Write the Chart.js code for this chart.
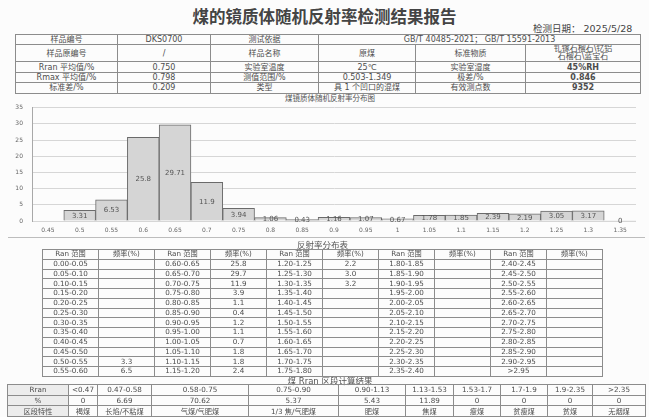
<!DOCTYPE html>
<html>
<head>
<meta charset="utf-8">
<script src="https://cdn.jsdelivr.net/npm/chart.js@4.4.1/dist/chart.umd.min.js"></script>
<style>
  html, body { margin: 0; padding: 0; background: #fcfcfc; }
  body { width: 649px; height: 417px; position: relative; overflow: hidden;
         font-family: "DejaVu Sans", "Noto Sans CJK SC", sans-serif; color: #4d4d4d; }
  .txt { position: absolute; white-space: nowrap; }
  table { position: absolute; border-collapse: collapse; table-layout: fixed; }
  td { border: 1px solid #8c8c8c; text-align: center; padding: 0; white-space: nowrap; overflow: hidden; vertical-align: middle; }
  #info td { font-size: 8px; line-height: 9px; }
  #info tr { height: 10.4px; }
  #info td.two { line-height: 8px; }
  #info tr.tall { height: 17px; }
  #dist td { font-size: 7.2px; line-height: 8px; }
  #dist tr { height: 9.75px; }
  #bands td { font-size: 7.2px; line-height: 9px; }
  #bands tr { height: 10.7px; }
  #bands td.head { background: #ececec; }
  .b { font-weight: bold; }
  #chartBox { position: absolute; left: 0; top: 95px; width: 649px; height: 145px; }
  #rule { position: absolute; left: 8px; top: 237px; width: 637px; height: 0; border-top: 1px solid #bdbdbd; }
</style>
</head>
<body>

<div class="txt" style="left:0;width:649px;top:4px;text-align:center;font-size:16.5px;font-weight:bold;color:#444;font-family:'Noto Sans CJK SC';">煤的镜质体随机反射率检测结果报告</div>
<div class="txt" style="left:533px;top:21px;font-size:9.5px;color:#444;">检测日期： 2025/5/28</div>

<table id="info" style="left:15px;top:34px;width:625px;">
  <colgroup><col style="width:102px"><col style="width:93px"><col style="width:108px"><col style="width:97px"><col style="width:110px"><col style="width:115px"></colgroup>
  <tr><td>样品编号</td><td>DKS0700</td><td>测试依据</td><td colspan="3">GB/T 40485-2021； GB/T 15591-2013</td></tr>
  <tr class="tall"><td>样品原编号</td><td>/</td><td>样品名称</td><td>原煤</td><td>标准物质</td><td class="two">钆镓石榴石\钇铝<br>石榴石\蓝宝石</td></tr>
  <tr><td>Rran 平均值/%</td><td>0.750</td><td>实验室温度</td><td>25℃</td><td>实验室湿度</td><td class="b">45%RH</td></tr>
  <tr><td>Rmax 平均值/%</td><td>0.798</td><td>测值范围/%</td><td>0.503-1.349</td><td>极差/%</td><td class="b">0.846</td></tr>
  <tr><td>标准差/%</td><td>0.209</td><td>类型</td><td>具 1 个凹口的混煤</td><td>有效测点数</td><td class="b">9352</td></tr>
</table>

<div class="txt" style="left:0;width:660px;top:92px;text-align:center;font-size:7.5px;color:#555;">煤镜质体随机反射率分布图</div>

<div id="chartBox"><canvas id="hist" width="649" height="145"></canvas></div>
<div id="rule"></div>

<div class="txt" style="left:0;width:645px;top:238px;text-align:center;font-size:8.5px;color:#555;">反射率分布表</div>
<table id="dist" style="left:42px;top:249px;width:560px;"></table>

<div class="txt" style="left:0;width:660px;top:374px;text-align:center;font-size:8.5px;color:#555;">煤 Rran 区段计算结果</div>
<table id="bands" style="left:7px;top:384px;width:638px;"></table>

<script>
// Histogram: random reflectance distribution (bin lower bound, % of points)
const binLabels = ['0.45','0.5','0.55','0.6','0.65','0.7','0.75','0.8','0.85','0.9','0.95','1','1.05','1.1','1.15','1.2','1.25','1.3','1.35'];
const binFreq   = [null, 3.31, 6.53, 25.8, 29.71, 11.9, 3.94, 1.06, 0.43, 1.16, 1.07, 0.67, 1.78, 1.85, 2.39, 2.19, 3.05, 3.17, 0];
const yMax = 35;
const yStep = 5;

// Distribution table: five pairs of (range, frequency) columns
const ranCol1  = ['0.00-0.05','0.05-0.10','0.10-0.15','0.15-0.20','0.20-0.25','0.25-0.30','0.30-0.35','0.35-0.40','0.40-0.45','0.45-0.50','0.50-0.55','0.55-0.60'];
const freqCol1 = ['','','','','','','','','','','3.3','6.5'];
const ranCol2  = ['0.60-0.65','0.65-0.70','0.70-0.75','0.75-0.80','0.80-0.85','0.85-0.90','0.90-0.95','0.95-1.00','1.00-1.05','1.05-1.10','1.10-1.15','1.15-1.20'];
const freqCol2 = ['25.8','29.7','11.9','3.9','1.1','0.4','1.2','1.1','0.7','1.8','1.8','2.4'];
const ranCol3  = ['1.20-1.25','1.25-1.30','1.30-1.35','1.35-1.40','1.40-1.45','1.45-1.50','1.50-1.55','1.55-1.60','1.60-1.65','1.65-1.70','1.70-1.75','1.75-1.80'];
const freqCol3 = ['2.2','3.0','3.2','','','','','','','','',''];
const ranCol4  = ['1.80-1.85','1.85-1.90','1.90-1.95','1.95-2.00','2.00-2.05','2.05-2.10','2.10-2.15','2.15-2.20','2.20-2.25','2.25-2.30','2.30-2.35','2.35-2.40'];
const freqCol4 = ['','','','','','','','','','','',''];
const ranCol5  = ['2.40-2.45','2.45-2.50','2.50-2.55','2.55-2.60','2.60-2.65','2.65-2.70','2.70-2.75','2.75-2.80','2.80-2.85','2.85-2.90','2.90-2.95','>2.95'];
const freqCol5 = ['','','','','','','','','','','',''];

// Rran band results
const bandRanges = ['<0.47','0.47-0.58','0.58-0.75','0.75-0.90','0.90-1.13','1.13-1.53','1.53-1.7','1.7-1.9','1.9-2.35','>2.35'];
const bandPct    = ['0','6.69','70.62','5.37','5.43','11.89','0','0','0','0'];
const bandType   = ['褐煤','长焰/不粘煤','气煤/气肥煤','1/3 焦/气肥煤','肥煤','焦煤','瘦煤','贫瘦煤','贫煤','无烟煤'];
const bandWidths = [61, 29, 54, 97, 90, 67, 48, 47, 47, 45, 53];

// ---- distribution table ----
(function buildDist() {
  const t = document.getElementById('dist');
  const cols = [[ranCol1, freqCol1], [ranCol2, freqCol2], [ranCol3, freqCol3], [ranCol4, freqCol4], [ranCol5, freqCol5]];
  let html = '<colgroup>' + '<col style="width:56px">'.repeat(10) + '</colgroup><tr>';
  cols.forEach(() => { html += '<td>Ran 范围</td><td>频率(%)</td>'; });
  html += '</tr>';
  for (let r = 0; r < ranCol1.length; r++) {
    html += '<tr>';
    cols.forEach(([ran, fr]) => { html += '<td>' + ran[r] + '</td><td>' + fr[r] + '</td>'; });
    html += '</tr>';
  }
  t.innerHTML = html;
})();

// ---- band table ----
(function buildBands() {
  const t = document.getElementById('bands');
  let html = '<colgroup>' + bandWidths.map(w => '<col style="width:' + w + 'px">').join('') + '</colgroup>';
  html += '<tr><td class="head">Rran</td>' + bandRanges.map(s => '<td>' + s + '</td>').join('') + '</tr>';
  html += '<tr><td class="head">%</td>' + bandPct.map(s => '<td>' + s + '</td>').join('') + '</tr>';
  html += '<tr><td class="head">区段特性</td>' + bandType.map(s => '<td>' + s + '</td>').join('') + '</tr>';
  t.innerHTML = html;
})();

// ---- histogram ----
const valueLabels = {
  id: 'valueLabels',
  afterDatasetsDraw(chart) {
    const { ctx } = chart;
    const meta = chart.getDatasetMeta(0);
    ctx.save();
    ctx.font = '7px "DejaVu Sans"';
    ctx.fillStyle = '#555';
    ctx.textAlign = 'center';
    ctx.textBaseline = 'middle';
    meta.data.forEach((bar, i) => {
      const v = chart.data.datasets[0].data[i];
      if (v === null || v === undefined) return;
      const yMid = (bar.y + bar.base) / 2;
      ctx.fillText(String(v), bar.x, yMid + 0.5);
    });
    ctx.restore();
  }
};

new Chart(document.getElementById('hist'), {
  type: 'bar',
  data: {
    labels: binLabels,
    datasets: [{
      data: binFreq,
      backgroundColor: '#d5d5d5',
      borderColor: '#6a6a6a',
      borderWidth: ctx => (ctx.raw ? 1 : 0),
      barPercentage: 1,
      categoryPercentage: 1
    }]
  },
  options: {
    responsive: false,
    animation: false,
    devicePixelRatio: 1,
    layout: { padding: { left: 0, right: 13, top: 7, bottom: 4 } },
    plugins: { legend: { display: false }, tooltip: { enabled: false } },
    scales: {
      x: {
        grid: { display: false, drawTicks: false },
        border: { display: false },
        ticks: { color: '#666', font: { family: 'DejaVu Sans', size: 6 }, padding: 6, maxRotation: 0, autoSkip: false },
        afterFit: s => { s.height = 15; }
      },
      y: {
        min: 0, max: yMax,
        grid: { color: '#d6d6d6', lineWidth: 1, drawTicks: false },
        border: { display: true, color: '#a8a8a8' },
        ticks: { stepSize: yStep, color: '#666', font: { family: 'DejaVu Sans', size: 6 }, padding: 9 },
        afterFit: s => { s.width = 32; }
      }
    }
  },
  plugins: [valueLabels]
});
</script>
</body>
</html>
